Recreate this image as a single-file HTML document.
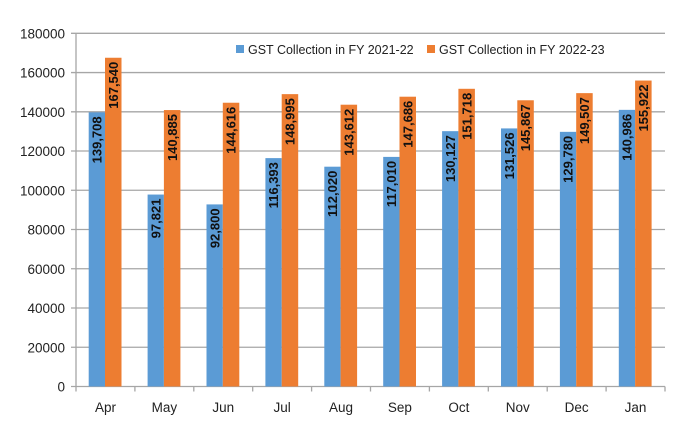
<!DOCTYPE html>
<html><head><meta charset="utf-8"><style>
body{margin:0;background:#fff}
svg{display:block;font-family:"Liberation Sans",sans-serif}
</style></head><body>
<svg width="680" height="446" viewBox="0 0 680 446">
<g id="g"></g>
</svg>
<script>
var b=[139708,97821,92800,116393,112020,117010,130127,131526,129780,140986];
var o=[167540,140885,144616,148995,143612,147686,151718,145867,149507,155922];
var m=["Apr","May","Jun","Jul","Aug","Sep","Oct","Nov","Dec","Jan"];
var x0=76,x1=665,y0=386.5,yt=33.3,w=(x1-x0)/10,s='';
function Y(v){return y0-(y0-yt)*v/180000}
for(var i=0;i<=9;i++){var v=i*20000,y=Y(v);
s+='<line x1="'+(x0-5)+'" x2="'+x1+'" y1="'+y+'" y2="'+y+'" stroke="#a6a6a6" stroke-width="1.3"/>';
s+='<text x="65" y="'+(y+5)+'" font-size="13.5" text-anchor="end" fill="#222">'+v+'</text>';}
s+='<line x1="'+x0+'" x2="'+x0+'" y1="'+yt+'" y2="'+(y0+5)+'" stroke="#a6a6a6" stroke-width="1.3"/>';
function f(n){return n.toLocaleString('en-US')}
for(var i=0;i<10;i++){var cx=x0+i*w,bx=cx+12.7;
s+='<line x1="'+(cx+w)+'" x2="'+(cx+w)+'" y1="'+y0+'" y2="'+(y0+5)+'" stroke="#a6a6a6" stroke-width="1.3"/>';
s+='<rect x="'+bx+'" y="'+Y(b[i])+'" width="16.3" height="'+(y0-Y(b[i]))+'" fill="#5b9bd5"/>';
s+='<rect x="'+(bx+16.3)+'" y="'+Y(o[i])+'" width="16.5" height="'+(y0-Y(o[i]))+'" fill="#ed7d31"/>';
s+='<text transform="translate('+(bx+12.8)+','+(Y(b[i])+4)+') rotate(-90)" font-size="13" font-weight="bold" text-anchor="end" fill="#111">'+f(b[i])+'</text>';
s+='<text transform="translate('+(bx+29.2)+','+(Y(o[i])+4)+') rotate(-90)" font-size="13" font-weight="bold" text-anchor="end" fill="#111">'+f(o[i])+'</text>';
s+='<text x="'+(cx+w/2)+'" y="412" font-size="13.5" text-anchor="middle" fill="#222">'+m[i]+'</text>';}
s+='<rect x="236" y="45" width="8" height="8" fill="#5b9bd5"/><text x="248" y="54" font-size="12.5" fill="#222">GST Collection in FY 2021-22</text>';
s+='<rect x="427" y="45" width="8" height="8" fill="#ed7d31"/><text x="439" y="54" font-size="12.5" fill="#222">GST Collection in FY 2022-23</text>';
document.getElementById('g').innerHTML=s;
</script>
</body></html>
